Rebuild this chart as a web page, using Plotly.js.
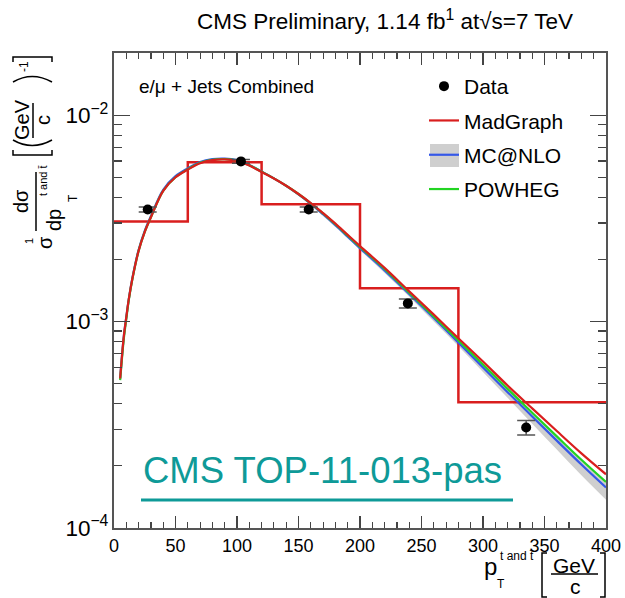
<!DOCTYPE html>
<html>
<head>
<meta charset="utf-8">
<script src="https://cdn.plot.ly/plotly-3.0.1.min.js"></script>
<style>html,body{margin:0;padding:0;background:#fff;}#chart{width:625px;height:598px;}</style>
</head>
<body>
<div id="chart"></div>
<script>
// ---------------- data ----------------
const dataX = [27.4, 103.2, 158.3, 238.9, 335.1];
const dataY = [3.49e-3, 5.97e-3, 3.49e-3, 1.225e-3, 3.07e-4];
const dataErr = [1.0e-4, 1.2e-4, 1.0e-4, 6.2e-5, 2.5e-5];

const histEdges = [0, 60, 120, 200, 280, 400];
const histVals = [3.05e-3, 5.91e-3, 3.70e-3, 1.45e-3, 4.07e-4];

const pt = [5, 8, 10, 12, 15, 20, 25, 30, 40, 50, 60, 70, 80, 90, 100, 110, 120, 130, 140, 150, 160, 170, 180, 190, 200, 220, 240, 260, 280, 300, 320, 340, 360, 380, 400];
const madgraph = [5.3e-4, 8.5e-4, 1.05e-3, 1.28e-3, 1.62e-3, 2.2e-3, 2.72e-3, 3.2e-3, 4.3e-3, 5.0e-3, 5.45e-3, 5.85e-3, 6.05e-3, 6.1e-3, 6.0e-3, 5.7e-3, 5.3e-3, 4.93e-3, 4.55e-3, 4.15e-3, 3.75e-3, 3.35e-3, 2.98e-3, 2.63e-3, 2.32e-3, 1.82e-3, 1.40e-3, 1.08e-3, 8.3e-4, 6.4e-4, 4.9e-4, 3.8e-4, 2.95e-4, 2.3e-4, 1.82e-4];
const powheg = [5.2e-4, 8.3e-4, 1.03e-3, 1.27e-3, 1.61e-3, 2.2e-3, 2.72e-3, 3.2e-3, 4.3e-3, 5.0e-3, 5.47e-3, 5.88e-3, 6.08e-3, 6.12e-3, 6.02e-3, 5.72e-3, 5.32e-3, 4.94e-3, 4.55e-3, 4.15e-3, 3.74e-3, 3.34e-3, 2.96e-3, 2.61e-3, 2.30e-3, 1.80e-3, 1.38e-3, 1.06e-3, 8.1e-4, 6.2e-4, 4.72e-4, 3.62e-4, 2.78e-4, 2.14e-4, 1.67e-4];
const mcatnlo = [5.3e-4, 8.5e-4, 1.05e-3, 1.28e-3, 1.63e-3, 2.22e-3, 2.75e-3, 3.24e-3, 4.35e-3, 5.06e-3, 5.52e-3, 5.92e-3, 6.12e-3, 6.16e-3, 6.05e-3, 5.74e-3, 5.33e-3, 4.94e-3, 4.54e-3, 4.13e-3, 3.72e-3, 3.31e-3, 2.93e-3, 2.58e-3, 2.27e-3, 1.77e-3, 1.36e-3, 1.04e-3, 7.9e-4, 6.0e-4, 4.55e-4, 3.47e-4, 2.65e-4, 2.03e-4, 1.57e-4];
const bandHi = [5.4e-4, 8.6e-4, 1.06e-3, 1.29e-3, 1.64e-3, 2.23e-3, 2.77e-3, 3.26e-3, 4.38e-3, 5.1e-3, 5.56e-3, 5.96e-3, 6.16e-3, 6.2e-3, 6.1e-3, 5.79e-3, 5.38e-3, 4.99e-3, 4.59e-3, 4.18e-3, 3.77e-3, 3.36e-3, 2.98e-3, 2.63e-3, 2.32e-3, 1.81e-3, 1.39e-3, 1.065e-3, 8.15e-4, 6.25e-4, 4.75e-4, 3.63e-4, 2.78e-4, 2.14e-4, 1.66e-4];
const bandLo = [5.2e-4, 8.4e-4, 1.04e-3, 1.27e-3, 1.61e-3, 2.2e-3, 2.72e-3, 3.21e-3, 4.31e-3, 5.01e-3, 5.46e-3, 5.86e-3, 6.06e-3, 6.1e-3, 5.99e-3, 5.68e-3, 5.27e-3, 4.88e-3, 4.48e-3, 4.07e-3, 3.66e-3, 3.25e-3, 2.87e-3, 2.53e-3, 2.22e-3, 1.72e-3, 1.32e-3, 1.0e-3, 7.6e-4, 5.7e-4, 4.27e-4, 3.2e-4, 2.4e-4, 1.8e-4, 1.37e-4];

const xTickVals = [0, 50, 100, 150, 200, 250, 300, 350, 400];
// ---------------- layout helpers ----------------
const L = 114, R = 606, T = 53, B = 528;
const px = v => (v - L) / (R - L);
const py = v => (B - v) / (B - T);
const FONT = "Liberation Sans, Arial, Helvetica, sans-serif";

const RED = '#d91e1e', BLUE = '#3558e8', GREEN = '#22d422', GREY = '#cfcfcf';

const traces = [
  {x: pt, y: bandLo, mode: 'lines', line: {width: 0, color: GREY, shape: 'spline'}, showlegend: false, hoverinfo: 'skip'},
  {x: pt, y: bandHi, mode: 'lines', line: {width: 0, color: GREY, shape: 'spline'}, fill: 'tonexty', fillcolor: GREY, showlegend: false, hoverinfo: 'skip'},
  {x: histEdges, y: histVals.concat([histVals[histVals.length - 1]]), mode: 'lines', line: {shape: 'hv', color: RED, width: 2.5}, showlegend: false},
  {x: pt, y: mcatnlo, mode: 'lines', name: 'MC@NLO', line: {color: BLUE, width: 2.2, shape: 'spline'}, legendrank: 3, legendgroup: 'c'},
  {x: pt, y: powheg, mode: 'lines', name: 'POWHEG', line: {color: GREEN, width: 2.2, shape: 'spline'}, legendrank: 4, legendgroup: 'd'},
  {x: pt, y: madgraph, mode: 'lines', name: 'MadGraph', line: {color: RED, width: 2.2, shape: 'spline'}, legendrank: 2, legendgroup: 'b'},
  {x: dataX, y: dataY, mode: 'markers', name: 'Data', marker: {color: '#000', size: 10},
   error_y: {type: 'data', array: dataErr, color: '#555', thickness: 1.5, width: 9}, legendrank: 1, legendgroup: 'a'}
];

const ann = [];
function A(text, x, y, size, extra) {
  ann.push(Object.assign({text: text, x: px(x), y: py(y), xref: 'paper', yref: 'paper', showarrow: false,
    xanchor: 'center', yanchor: 'middle', font: {family: FONT, size: size, color: '#000'}}, extra || {}));
}
// title
A('CMS Preliminary, 1.14 fb<sup>1</sup> at√s=7 TeV', 385, 20, 22.5);
A('e/μ + Jets Combined', 137, 86, 19, {xanchor: 'left'});
A('CMS TOP-11-013-pas', 141, 470, 36.5, {xanchor: 'left', font: {family: FONT, size: 36.5, color: '#0e9a98'}});
// x label
A('p', 490, 566, 24);
A('t and t̄', 498, 556, 12, {xanchor: 'left'});
A('T', 501, 584, 12);
A('GeV', 574, 565, 21);
A('c', 575, 586, 21);
// y label (rotated)
const rot = {textangle: -90};
A('1', 29, 241, 11, rot);
A('σ', 45, 243, 20, rot);
A('dσ', 21, 201, 20, rot);
A('dp', 54, 220, 20, rot);
A('t and t̄', 43, 181, 11, rot);
A('T', 73, 198, 12, rot);
A('GeV', 22, 120, 20, rot);
A('c', 43, 120, 20, rot);
A('-1', 24, 67, 12, rot);

const shp = [];
function P(path, w, color) {
  shp.push({type: 'path', xref: 'paper', yref: 'paper', path: path, line: {color: color || '#000', width: w || 1.5}});
}
function pp(points) { // points in pixel coords -> path
  return points.map((p, i) => (i === 0 ? 'M' : 'L') + px(p[0]) + ',' + py(p[1])).join(' ');
}
// underline
P(pp([[141, 500], [513, 500]]), 3, '#0e9a98');
// x label brackets and fraction bar
P(pp([[547, 553], [542, 553], [542, 597], [547, 597]]), 1.5);
P(pp([[600, 553], [605, 553], [605, 597], [600, 597]]), 1.5);
P(pp([[551, 574], [598, 574]]), 1.5);
// y label bars/brackets
P(pp([[36, 172], [36, 231]]), 1.5);
P(pp([[33, 103], [33, 138]]), 1.5);
P(pp([[13, 150], [13, 155], [52, 155], [52, 150]]), 1.5);
P(pp([[13, 62], [13, 57], [52, 57], [52, 62]]), 1.5);
P('M' + px(13) + ',' + py(140) + ' Q' + px(32) + ',' + py(151) + ' ' + px(52) + ',' + py(140), 1.5);
P('M' + px(13) + ',' + py(82) + ' Q' + px(32) + ',' + py(71) + ' ' + px(52) + ',' + py(82), 1.5);
// grey box behind MC@NLO legend symbol
shp.push({type: 'rect', xref: 'paper', yref: 'paper', x0: px(430), x1: px(459), y0: py(167), y1: py(144),
  fillcolor: GREY, line: {width: 0}, layer: 'above'});

const layout = {
  width: 625, height: 598,
  margin: {l: L, r: 625 - R, t: T, b: 598 - B},
  paper_bgcolor: '#fff', plot_bgcolor: '#fff',
  font: {family: FONT, size: 18, color: '#000'},
  showlegend: true,
  legend: {x: px(424), y: py(66), xanchor: 'left', yanchor: 'top', bgcolor: 'rgba(0,0,0,0)',
    font: {family: FONT, size: 21, color: '#000'}, traceorder: 'grouped', tracegroupgap: 4},
  xaxis: {range: [0, 400], tickvals: xTickVals, ticks: 'inside', ticklen: 12, tickwidth: 1.2, tickcolor: '#444',
    minor: {dtick: 10, ticks: 'inside', ticklen: 6, tickwidth: 1.2, tickcolor: '#444'},
    showline: true, linecolor: '#555', linewidth: 2, mirror: 'ticks', showgrid: false, zeroline: false,
    tickfont: {family: FONT, size: 18, color: '#000'}},
  yaxis: {type: 'log', range: [-4, Math.log10(0.02)], dtick: 1, exponentformat: 'power', ticks: 'inside', ticklen: 16,
    tickwidth: 1.2, tickcolor: '#444',
    minor: {dtick: 'D1', ticks: 'inside', ticklen: 8, tickwidth: 1.2, tickcolor: '#444'},
    showline: true, linecolor: '#555', linewidth: 2, mirror: 'ticks', showgrid: false, zeroline: false,
    tickfont: {family: FONT, size: 18, color: '#000'}},
  annotations: ann,
  shapes: shp
};

Plotly.newPlot('chart', traces, layout, {displayModeBar: false, staticPlot: true});
</script>
</body>
</html>
